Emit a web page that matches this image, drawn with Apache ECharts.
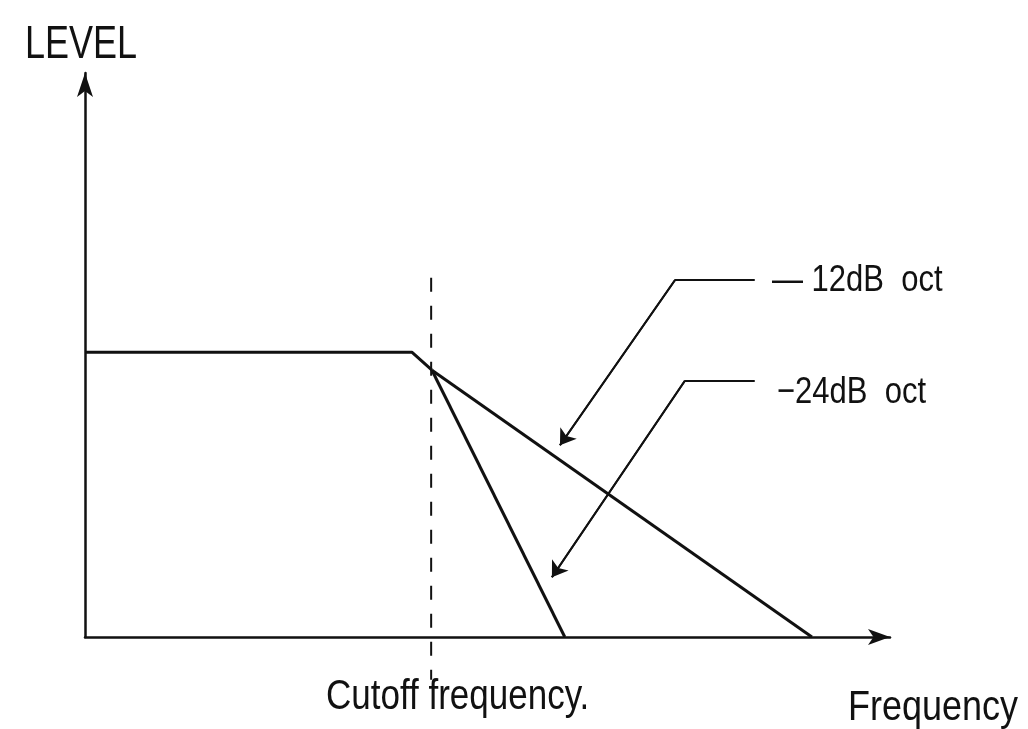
<!DOCTYPE html>
<html>
<head>
<meta charset="utf-8">
<script src="https://cdn.jsdelivr.net/npm/echarts@6/dist/echarts.min.js"></script>
<style>html,body{margin:0;padding:0;background:#fff;}#c{width:1028px;height:729px;}</style>
</head>
<body>
<div id="c"></div>
<script>
// Schematic low-pass filter response (axis units 0..100)
const passband = [[0, 50.5], [40.6, 50.5], [43.1, 47.3]];
const slope12 = [[43.1, 47.3], [90.3, 0]];
const slope24 = [[43.1, 47.3], [59.6, 0]];
const cutoffX = 43;
const cutoffLine = [[cutoffX, 63.7], [cutoffX, -7.6]];
const pointer12 = [[83.2, 63.3], [73.3, 63.3], [59.0, 34.0]];
const pointer24 = [[83.2, 45.4], [74.5, 45.4], [58.0, 10.6]];
const labels = { y: 'LEVEL', x: 'Frequency', cutoff: 'Cutoff frequency.', s12: '— 12dB  oct', s24: '−24dB  oct' };

const chart = echarts.init(document.getElementById('c'));
const font = '"Liberation Sans", Arial, sans-serif';
const blk = '#111';
function txt(s, x, y, size, sy) {
  return { type: 'text', x: x, y: y, scaleY: sy, style: { text: s, font: size + 'px ' + font, fill: blk, textVerticalAlign: 'top' } };
}
function lastSeg(p) { return { coords: [p[p.length - 2], p[p.length - 1]] }; }
const plain = { showSymbol: false, clip: false };
chart.setOption({
  animation: false,
  backgroundColor: '#fff',
  grid: { left: 85, right: 138, top: 73, bottom: 92 },
  xAxis: {
    type: 'value', min: 0, max: 100,
    axisLine: { lineStyle: { color: blk, width: 2.5 }, symbol: ['none', 'arrow'], symbolSize: [12, 22] },
    axisTick: { show: false }, axisLabel: { show: false }, splitLine: { show: false }
  },
  yAxis: {
    type: 'value', min: 0, max: 100,
    axisLine: { show: true, lineStyle: { color: blk, width: 2.5 }, symbol: ['none', 'arrow'], symbolSize: [12, 24] },
    axisTick: { show: false }, axisLabel: { show: false }, splitLine: { show: false }
  },
  series: [
    Object.assign({ type: 'line', data: passband, lineStyle: { color: blk, width: 3 } }, plain),
    Object.assign({ type: 'line', data: slope12, lineStyle: { color: blk, width: 3 } }, plain),
    Object.assign({ type: 'line', data: slope24, lineStyle: { color: blk, width: 3 } }, plain),
    Object.assign({ type: 'line', data: cutoffLine, lineStyle: { color: blk, width: 2, type: [14, 14] } }, plain),
    Object.assign({ type: 'line', data: pointer12, lineStyle: { color: blk, width: 2 } }, plain),
    Object.assign({ type: 'line', data: pointer24, lineStyle: { color: blk, width: 2 } }, plain),
    {
      type: 'lines', coordinateSystem: 'cartesian2d',
      symbol: ['none', 'arrow'], symbolSize: 15,
      lineStyle: { color: blk, width: 2, opacity: 1 },
      itemStyle: { color: blk },
      data: [lastSeg(pointer12), lastSeg(pointer24)]
    }
  ],
  graphic: [
    txt(labels.y, 25, 22, 36, 1.3),
    txt(labels.cutoff, 326, 676, 35, 1.2),
    txt(labels.x, 848, 686, 36, 1.2),
    txt(labels.s12, 772, 262, 31, 1.2),
    txt(labels.s24, 777, 374, 31, 1.2)
  ]
});
</script>
</body>
</html>
